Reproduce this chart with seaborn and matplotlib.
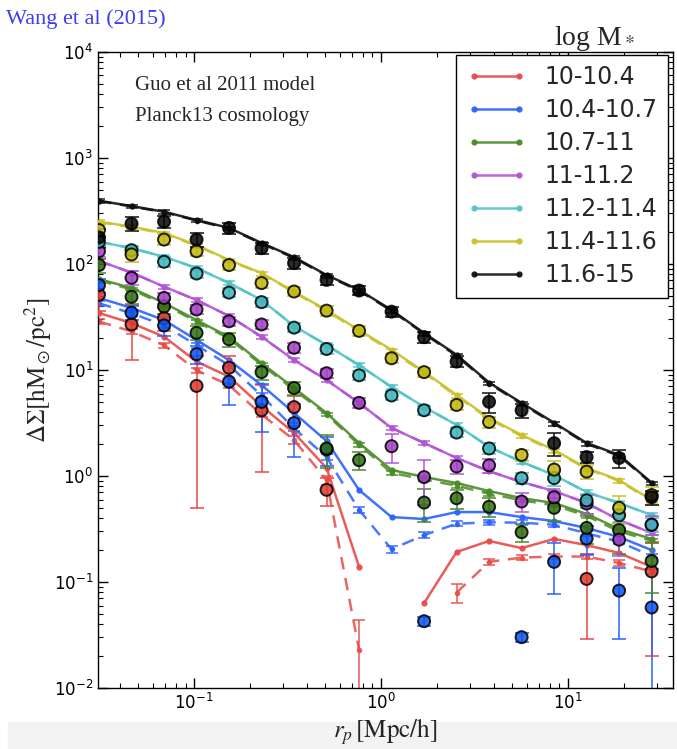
import numpy as np
import matplotlib
matplotlib.use("Agg")
import matplotlib.pyplot as plt
from matplotlib.patches import Rectangle
import seaborn as sns
import pandas as pd

nan = np.nan

# ---------------- data ----------------
rp = [0.0310, 0.0463, 0.0691, 0.1031, 0.1538, 0.2296, 0.3426, 0.5113, 0.7630,
      1.138, 1.699, 2.535, 3.783, 5.646, 8.425, 12.57, 18.76, 28.0]

mass_bins = ["10-10.4", "10.4-10.7", "10.7-11", "11-11.2", "11.2-11.4", "11.4-11.6", "11.6-15"]

# model (solid)
model_red = [34.5, 27.7, 20.6, 12.0, 8.65, 4.57, 2.55, 1.19, 0.139, nan, 0.0634, 0.192, 0.244, 0.209, 0.255, 0.223, 0.188, 0.139]
model_blue = [47.8, 38.5, 29.6, 19.2, 12.4, 7.21, 3.93, 2.14, 0.738, 0.410, 0.393, 0.457, 0.457, 0.410, 0.376, 0.323, 0.266, 0.200]
model_green = [72.1, 59.4, 42.9, 29.6, 20.5, 11.6, 6.76, 3.93, 2.05, 1.14, 0.980, 0.859, 0.721, 0.619, 0.556, 0.439, 0.316, 0.255]
model_magenta = [107, 83.0, 61.1, 45.7, 32.3, 20.6, 12.4, 8.05, 4.89, 2.84, 2.05, 1.48, 1.11, 0.877, 0.721, 0.556, 0.385, 0.290]
model_cyan = [162, 141, 117, 91.6, 66.2, 45.7, 26.0, 17.2, 11.1, 6.92, 4.48, 3.03, 1.88, 1.36, 1.02, 0.706, 0.556, 0.429]
model_yellow = [251, 225, 196, 151, 109, 82.2, 54.8, 36.8, 23.8, 15.5, 9.64, 5.81, 3.52, 2.44, 1.76, 1.19, 0.916, 0.594]
model_black = [395, 352, 311, 260, 219, 158, 116, 78.7, 56.9, 36.8, 22.3, 13.9, 7.60, 4.89, 3.18, 2.05, 1.58, 0.865]

# model (dashed)
dash_red = [28.7, 23.1, 17.1, 9.95, 7.19, 3.80, 2.19, 0.912, 0.0229, nan, nan, 0.0794, 0.155, 0.170, 0.174, 0.174, 0.151, 0.126]
dash_blue = [42.6, 34.3, 26.4, 17.1, 11.1, 5.75, 2.82, 1.51, 0.479, 0.204, 0.277, 0.355, 0.366, 0.363, 0.347, 0.288, 0.240, 0.176]
dash_green = [70.0, 57.5, 41.5, 28.6, 19.8, 11.2, 6.50, 3.80, 1.97, 1.07, 0.930, 0.810, 0.680, 0.590, 0.530, 0.420, 0.300, 0.245]
dash_magenta = model_magenta
dash_cyan = model_cyan
dash_yellow = [248, 222, 193, 149, 108, 81.0, 54.0, 36.0, 23.3, 15.1, 9.40, 5.65, 3.45, 2.38, 1.72, 1.17, 0.900, 0.580]
dash_black = [392, 349, 308, 257, 216, 156, 114, 77.5, 56.0, 36.2, 22.0, 13.6, 7.45, 4.80, 3.12, 2.01, 1.55, 0.850]

dash_err_red = [0.05, 0.05, 0.05, 0.06, 0.06, 0.06, 0.08, 0.1, 0.9, 0, 0, 0.2, 0.06, 0.06, 0.06, 0.06, 0.06, 0.06]
dash_err_blue = [0.05, 0.05, 0.05, 0.05, 0.05, 0.05, 0.05, 0.06, 0.06, 0.08, 0.06, 0.05, 0.05, 0.05, 0.05, 0.05, 0.05, 0.05]
dash_err_other = [0.04] * 18

# observations (circles)
obs_red = [51.3, 26.9, 30.9, 7.08, 10.5, 4.17, 4.47, 0.741, nan, nan, nan, nan, nan, nan, nan, 0.107, nan, 0.126]
obs_blue = [63.1, 34.7, 26.3, 14.1, 7.76, 5.01, 3.16, 1.78, nan, nan, 0.0427, nan, nan, 0.0302, 0.155, 0.257, 0.083, 0.0575]
obs_green = [97.7, 49.0, 39.8, 22.4, 19.5, 9.55, 6.76, 1.82, 1.41, nan, 0.562, 0.617, 0.513, 0.295, 0.501, 0.324, 0.309, 0.158]
obs_magenta = [132, 74.1, 47.9, 37.2, 28.8, 26.9, 16.2, 9.33, 4.90, 1.91, 0.977, 1.23, 1.26, 0.575, 0.631, 0.550, 0.251, 0.347]
obs_cyan = [162, 135, 105, 81.3, 53.7, 43.7, 25.1, 15.8, 8.91, 5.75, 4.17, 2.57, 1.82, 0.955, 0.955, 0.589, 0.427, 0.347]
obs_yellow = [209, 123, 170, 132, 97.7, 66.1, 55.0, 36.3, 23.4, 12.9, 9.55, 4.68, 3.24, 1.58, 1.15, 1.10, 0.501, 0.661]
obs_black = [178, 240, 251, 170, 219, 141, 102, 70.8, 56.2, 35.5, 20.4, 12.0, 5.01, 4.17, 2.04, 1.51, 1.48, 0.631]

# fractional errors of observations
err_red = [0.3, 0.54, 0.25, 0.93, 0.3, 0.74, 0.3, 0.3, 0, 0, 0, 0, 0, 0, 0, 0.73, 0, 0.84]
err_blue = [0.15, 0.15, 0.2, 0.2, 0.4, 0.48, 0.52, 0.3, 0, 0, 0.1, 0, 0, 0.1, 0.5, 0.3, 0.65, 1.3]
err_green = [0.15, 0.15, 0.15, 0.15, 0.15, 0.15, 0.15, 0.35, 0.2, 0, 0.35, 0.2, 0.2, 0.2, 0.25, 0.3, 0.4, 0.5]
err_magenta = [0.12, 0.15, 0.12, 0.1, 0.1, 0.1, 0.1, 0.1, 0.1, 0.3, 0.45, 0.15, 0.15, 0.2, 0.15, 0.2, 0.3, 0.2]
err_cyan = [0.1, 0.1, 0.1, 0.1, 0.1, 0.1, 0.1, 0.1, 0.1, 0.1, 0.1, 0.1, 0.12, 0.12, 0.15, 0.15, 0.15, 0.15]
err_yellow = [0.12, 0.15, 0.12, 0.1, 0.1, 0.1, 0.1, 0.1, 0.1, 0.1, 0.1, 0.1, 0.12, 0.12, 0.2, 0.15, 0.3, 0.2]
err_black = [0.2, 0.15, 0.12, 0.15, 0.12, 0.12, 0.12, 0.1, 0.1, 0.1, 0.12, 0.12, 0.22, 0.15, 0.25, 0.12, 0.2, 0.15]

line_colors = ["#e84a48", "#2a62ff", "#4a8c28", "#b454d6", "#52c4c8", "#c9c02a", "#101010"]
dot_colors = ["#dc3a2c", "#0a52ee", "#2f6c10", "#a23ec2", "#3fb4bc", "#c2b70e", "#050505"]

models = [model_red, model_blue, model_green, model_magenta, model_cyan, model_yellow, model_black]
dashes = [dash_red, dash_blue, dash_green, dash_magenta, dash_cyan, dash_yellow, dash_black]
dash_errs = [dash_err_red, dash_err_blue, dash_err_other, dash_err_other, dash_err_other, dash_err_other, dash_err_other]
obs = [obs_red, obs_blue, obs_green, obs_magenta, obs_cyan, obs_yellow, obs_black]
obs_errs = [err_red, err_blue, err_green, err_magenta, err_cyan, err_yellow, err_black]

# ---------------- figure ----------------
sns.set_theme(style="ticks")
plt.rcParams['font.family'] = ['DejaVu Sans']
plt.rcParams['axes.linewidth'] = 1.0

fig = plt.figure(figsize=(6.77, 7.49), dpi=100)
fig.patches.append(Rectangle((0.012, 0), 0.988, 0.036, transform=fig.transFigure,
                             color="#f3f3f3", zorder=-5))
ax = fig.add_axes([0.145, 0.0814, 0.849, 0.8492])
ax.set_facecolor("white")
ax.set_xscale("log")
ax.set_yscale("log")

x = np.array(rp)
handles = []
for k in range(7):
    lc = line_colors[k]
    d = np.array(dashes[k], dtype=float)
    de = np.array(dash_errs[k]) * d
    ax.errorbar(x, d, yerr=de, fmt="none", ecolor=lc, elinewidth=1.2,
                capsize=4, capthick=1.2, alpha=0.85, zorder=2)
    ax.plot(x, d, ls=(0, (5, 3.5)), color=lc, lw=1.8, marker="o", ms=3,
            alpha=0.85, zorder=2)
    m = np.array(models[k], dtype=float)
    h, = ax.plot(x, m, ls="-", color=lc, lw=1.8, marker="o", ms=3.5,
                 alpha=0.9, zorder=3, label=mass_bins[k])
    handles.append(h)

# observations
for k in range(7):
    o = np.array(obs[k], dtype=float)
    e = np.array(obs_errs[k]) * o
    ax.errorbar(x, o, yerr=e, fmt="none", ecolor=line_colors[k], elinewidth=1.3,
                capsize=5, capthick=1.3, alpha=0.85, zorder=4)

rows = []
for k in range(7):
    for xi, yi in zip(rp, obs[k]):
        if not np.isnan(yi):
            rows.append({"rp": xi, "dsig": yi, "mass": mass_bins[k]})
df = pd.DataFrame(rows)
sns.scatterplot(data=df, x="rp", y="dsig", hue="mass", hue_order=mass_bins,
                palette=dot_colors, s=75, edgecolor="black", linewidth=1.4,
                alpha=0.85, legend=False, ax=ax, zorder=5)

ax.set_xlim(0.0307, 36.4)
ax.set_ylim(1e-2, 1e4)

ax.tick_params(which="both", direction="in", top=True, right=True,
               colors="black", labelsize=12)
ax.tick_params(which="major", length=7, width=1)
ax.tick_params(which="minor", length=3.5, width=0.8)
ax.yaxis.set_minor_locator(matplotlib.ticker.LogLocator(base=10, subs=np.arange(2, 10), numticks=20))
ax.xaxis.set_minor_locator(matplotlib.ticker.LogLocator(base=10, subs=np.arange(2, 10), numticks=20))
ax.yaxis.set_minor_formatter(matplotlib.ticker.NullFormatter())
ax.xaxis.set_minor_formatter(matplotlib.ticker.NullFormatter())
for s in ax.spines.values():
    s.set_color("black")

ax.set_xlabel(r"$r_p\,[\mathrm{Mpc/h}]$", fontsize=18, math_fontfamily="stix", labelpad=2)
ax.set_ylabel(r"$\Delta\Sigma[\mathrm{hM_\odot/pc^2}]$", fontsize=18, math_fontfamily="stix", labelpad=0)

leg = ax.legend(handles=handles, loc="upper right", bbox_to_anchor=(0.992, 0.996),
                borderaxespad=0, numpoints=2, fontsize=17, frameon=True, fancybox=False,
                edgecolor="black", framealpha=1, handlelength=2.5, handletextpad=0.8,
                labelspacing=0.38, borderpad=0.45)
leg.get_frame().set_linewidth(1.0)

ax.text(0.064, 0.948, "Guo et al 2011 model", transform=ax.transAxes, fontsize=15,
        family="Liberation Serif", va="center", ha="left")
ax.text(0.064, 0.898, "Planck13 cosmology", transform=ax.transAxes, fontsize=15,
        family="Liberation Serif", va="center", ha="left")

fig.text(0.009, 0.975, "Wang et al (2015)", color="#3c3cf2", fontsize=16,
         family="Liberation Serif", va="center", ha="left")
fig.text(0.818, 0.949, r"log M$_*$", fontsize=20, family="Liberation Serif",
         math_fontfamily="stix", va="center", ha="left")

fig.savefig("out.png", dpi=100, facecolor="white")
